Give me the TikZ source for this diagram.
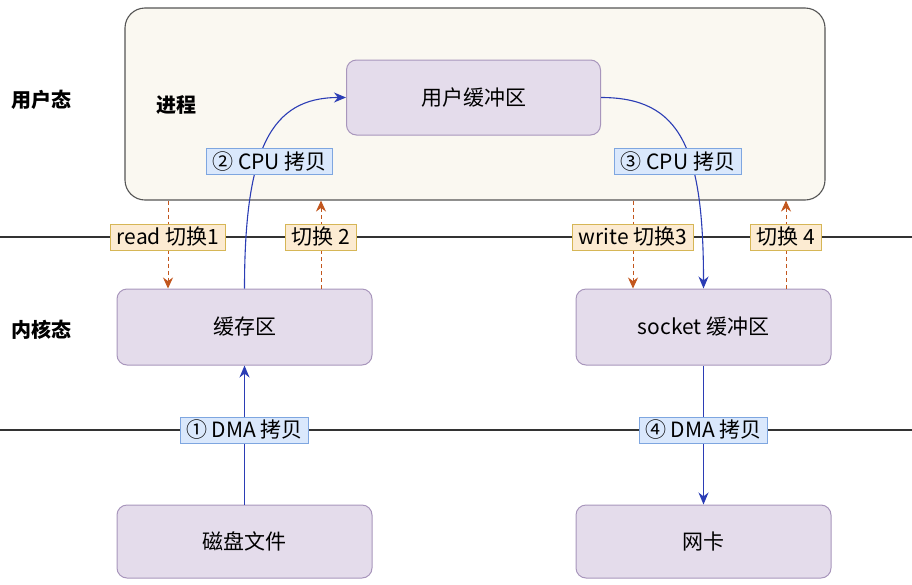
\documentclass[tikz,border=0pt]{standalone}
\usepackage{fontspec}
\setmainfont{Noto Sans CJK SC}
\usetikzlibrary{arrows.meta, positioning, calc}

\begin{document}
\begin{tikzpicture}[x=1pt, y=-1pt, font=\fontsize{21}{24}\selectfont,
    bufbox/.style={rectangle, draw=bufline, fill=buffill, line width=1pt, rounded corners=10pt, minimum width=254pt, minimum height=75pt},
    cpylbl/.style={rectangle, draw=cpyline, fill=cpyfill, line width=0.8pt, minimum height=26pt, inner xsep=6pt, inner ysep=0pt},
    swlbl/.style={rectangle, draw=swline, fill=swfill, line width=0.8pt, minimum height=26pt, inner xsep=6pt, inner ysep=0pt},
    cpyarr/.style={-{Stealth[length=12pt, width=10pt]}, draw=cpyarrow, line width=1.1pt},
    swarr/.style={-{Stealth[length=11pt, width=10pt]}, draw=swarrow, line width=1pt, dash pattern=on 4pt off 3pt},
    sepline/.style={draw=black!80, line width=1.1pt}]
  % Define colors
  \definecolor{procfill}{HTML}{FAF8F1}
  \definecolor{procline}{HTML}{555555}
  \definecolor{buffill}{HTML}{E4DCEB}
  \definecolor{bufline}{HTML}{A896BC}
  \definecolor{cpyfill}{HTML}{DAE8FC}
  \definecolor{cpyline}{HTML}{7EA6E0}
  \definecolor{swfill}{HTML}{FCEBD2}
  \definecolor{swline}{HTML}{D6B656}
  \definecolor{cpyarrow}{HTML}{2B3DB5}
  \definecolor{swarrow}{HTML}{C2561D}

  \useasboundingbox (0,0) rectangle (912,584);

  % Process box (user space)
  \node[rectangle, draw=procline, fill=procfill, line width=1.1pt, rounded corners=20pt, minimum width=700pt, minimum height=192pt] (proc) at (475,104) {};

  % Buffers
  \node[bufbox] (ubuf) at (473.5,97.5) {用户缓冲区};
  \node[bufbox, minimum width=255pt, minimum height=76pt] (cache) at (244.5,327) {缓存区};
  \node[bufbox, minimum width=255pt, minimum height=76pt] (sock) at (703.5,327) {socket 缓冲区};
  \node[bufbox, minimum width=255pt, minimum height=73pt] (disk) at (244.5,541.5) {磁盘文件};
  \node[bufbox, minimum width=255pt, minimum height=73pt] (nic) at (703.5,541.5) {网卡};

  % State labels
  \node[font=\fontsize{20}{23}\selectfont\bfseries] (usr) at (41,100) {用户态};
  \node[font=\fontsize{20}{23}\selectfont\bfseries] (prc) at (176,105) {进程};
  \node[font=\fontsize{20}{23}\selectfont\bfseries] (krn) at (41,330) {内核态};

  % Separator lines
  \coordinate (l1w) at (0,237);
  \coordinate (l1e) at (912,237);
  \coordinate (l2w) at (0,430);
  \coordinate (l2e) at (912,430);
  \draw[sepline] (l1w) -- (l1e);
  \draw[sepline] (l2w) -- (l2e);

  % Context switches
  \coordinate (rdpos) at (168,237);
  \coordinate (sw2pos) at (321,237);
  \coordinate (wrpos) at (633,237);
  \coordinate (sw4pos) at (786,237);
  \draw[swarr] (proc.south -| rdpos) -- (cache.north -| rdpos);
  \draw[swarr] (cache.north -| sw2pos) -- (proc.south -| sw2pos);
  \draw[swarr] (proc.south -| wrpos) -- (sock.north -| wrpos);
  \draw[swarr] (sock.north -| sw4pos) -- (proc.south -| sw4pos);

  % Copies
  \draw[cpyarr] (disk.north) -- (cache.south);
  \draw[cpyarr] (cache.north) .. controls +(0,-140) and +(-75,0) .. (ubuf.west);
  \draw[cpyarr] (ubuf.east) .. controls +(80,0) and +(0,-140) .. (sock.north);
  \draw[cpyarr] (sock.south) -- (nic.north);

  % Labels
  \node[cpylbl] (cpu2) at (269.5,161.5) {② CPU 拷贝};
  \node[cpylbl] (cpu3) at (678,161.5) {③ CPU 拷贝};
  \node[cpylbl] (dma1) at (cache.south |- l2w) {① DMA 拷贝};
  \node[cpylbl] (dma4) at (sock.south |- l2w) {④ DMA 拷贝};
  \node[swlbl] (rd) at (rdpos) {read 切换1};
  \node[swlbl] (sw2) at (sw2pos) {切换 2};
  \node[swlbl] (wr) at (wrpos) {write 切换3};
  \node[swlbl] (sw4) at (sw4pos) {切换 4};
\end{tikzpicture}
\end{document}
